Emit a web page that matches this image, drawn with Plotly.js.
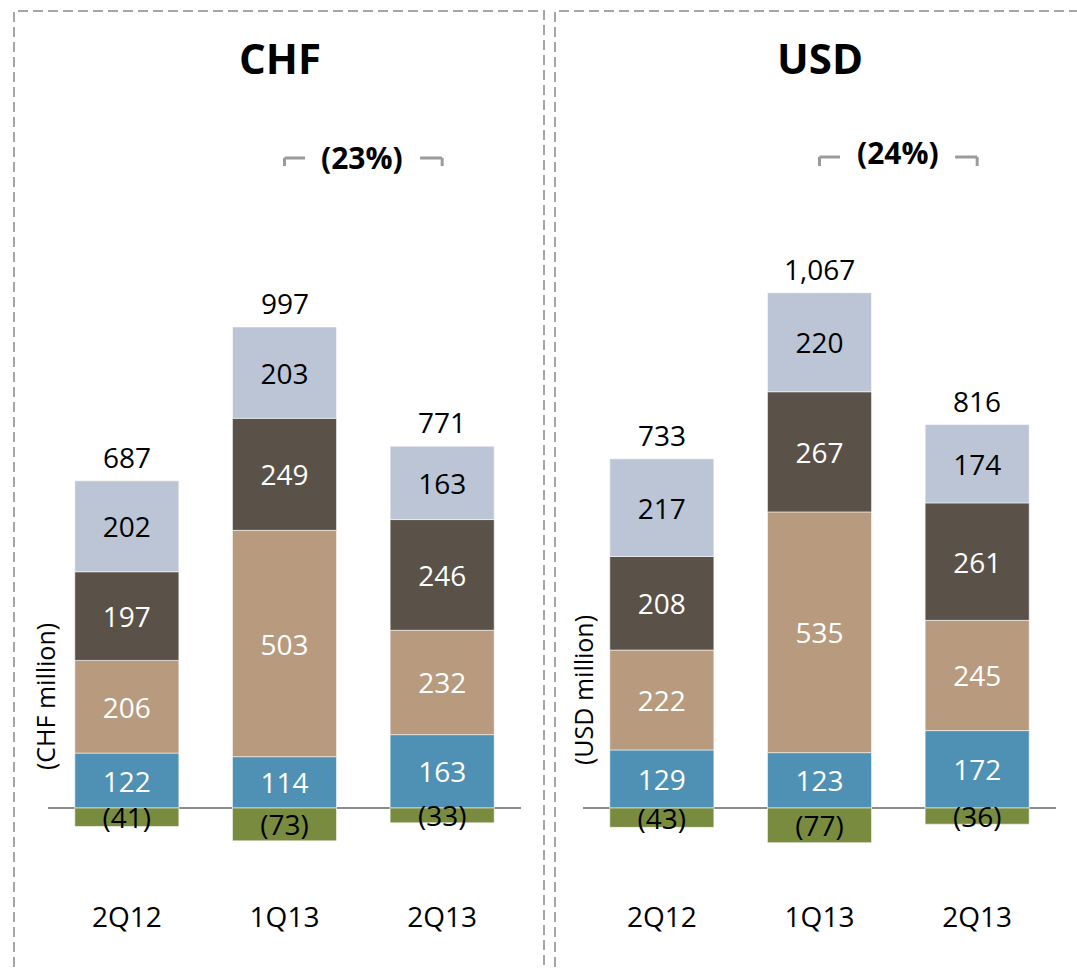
<!DOCTYPE html>
<html>
<head>
<meta charset="utf-8">
<script src="https://cdn.plot.ly/plotly-3.0.1.min.js"></script>
<style>html,body{margin:0;padding:0;background:#fff}#chart{width:1077px;height:969px}</style>
</head>
<body>
<div id="chart"></div>
<script>
// ---- data ----
const categories = ['2Q12', '1Q13', '2Q13'];

const chfBlue  = [122, 114, 163];
const chfTan   = [206, 503, 232];
const chfDark  = [197, 249, 246];
const chfLight = [202, 203, 163];
const chfGreen = [-41, -73, -33];
const chfTotal = ['687', '997', '771'];

const usdBlue  = [129, 123, 172];
const usdTan   = [222, 535, 245];
const usdDark  = [208, 267, 261];
const usdLight = [217, 220, 174];
const usdGreen = [-43, -77, -36];
const usdTotal = ['733', '1,067', '816'];

const panelTitles = ['CHF', 'USD'];
const axisTitles = ['(CHF million)', '(USD million)'];
const changeLabels = ['(23%)', '(24%)'];

// ---- styling ----
const W = 1077, H = 969;
const px = x => x / W;
const py = y => 1 - y / H;
const FONT = 'Open Sans, Noto Sans, sans-serif';
const colors = {blue: '#4e91b5', tan: '#b89b7f', dark: '#5a5249', light: '#bcc5d5', green: '#788b3e'};
const fmt = v => v < 0 ? '(' + (-v) + ')' : String(v);

function seriesTrace(vals, color, txtColor, xa, name) {
  return {
    type: 'bar', x: categories, y: vals, name: name,
    xaxis: xa, yaxis: 'y',
    marker: {color: color, line: {color: 'rgba(255,255,255,0.55)', width: 1}},
    text: vals.map(fmt), textposition: 'inside', insidetextanchor: 'middle',
    constraintext: 'none', cliponaxis: false, textangle: 0,
    textfont: {family: FONT, size: 28, color: txtColor},
    hoverinfo: 'x+y', showlegend: false
  };
}

const data = [
  seriesTrace(chfBlue, colors.blue, '#ffffff', 'x', 'CHF blue'),
  seriesTrace(chfTan, colors.tan, '#ffffff', 'x', 'CHF tan'),
  seriesTrace(chfDark, colors.dark, '#ffffff', 'x', 'CHF dark'),
  seriesTrace(chfLight, colors.light, '#000000', 'x', 'CHF light'),
  seriesTrace(chfGreen, colors.green, '#000000', 'x', 'CHF green'),
  seriesTrace(usdBlue, colors.blue, '#ffffff', 'x2', 'USD blue'),
  seriesTrace(usdTan, colors.tan, '#ffffff', 'x2', 'USD tan'),
  seriesTrace(usdDark, colors.dark, '#ffffff', 'x2', 'USD dark'),
  seriesTrace(usdLight, colors.light, '#000000', 'x2', 'USD light'),
  seriesTrace(usdGreen, colors.green, '#000000', 'x2', 'USD green')
];

const posSum = arrs => categories.map((c, i) => arrs.reduce((s, a) => s + Math.max(0, a[i]), 0));
const chfTop = posSum([chfBlue, chfTan, chfDark, chfLight]);
const usdTop = posSum([usdBlue, usdTan, usdDark, usdLight]);

const annotations = [];
function addTotals(tops, labels, xref) {
  categories.forEach((c, i) => {
    annotations.push({x: c, y: tops[i], xref: xref, yref: 'y', text: labels[i],
      showarrow: false, xanchor: 'center', yanchor: 'bottom', yshift: 3,
      font: {family: FONT, size: 28, color: '#000'}});
  });
}
addTotals(chfTop, chfTotal, 'x');
addTotals(usdTop, usdTotal, 'x2');

function paperText(x, y, text, size, extra) {
  annotations.push(Object.assign({x: px(x), y: py(y), xref: 'paper', yref: 'paper', text: text,
    showarrow: false, xanchor: 'center', yanchor: 'middle',
    font: {family: FONT, size: size, color: '#000'}}, extra || {}));
}
// panel titles
paperText(280, 57, '<b>' + panelTitles[0] + '</b>', 42);
paperText(820, 57, '<b>' + panelTitles[1] + '</b>', 42);
// axis titles
paperText(45, 697, axisTitles[0], 25, {textangle: -90});
paperText(583, 690, axisTitles[1], 25, {textangle: -90});
// change labels
paperText(362, 157, '<b>' + changeLabels[0] + '</b>', 30);
paperText(898, 152, '<b>' + changeLabels[1] + '</b>', 30);

const shapes = [];
const dashLine = {color: '#a6a6a6', width: 2, dash: '10px,5px'};
shapes.push({type: 'rect', xref: 'paper', yref: 'paper', x0: px(14), x1: px(544), y0: py(990), y1: py(11), line: dashLine});
shapes.push({type: 'rect', xref: 'paper', yref: 'paper', x0: px(555), x1: px(1100), y0: py(990), y1: py(11), line: dashLine});

function bracket(xref, yTop, yBot) {
  const ln = {color: '#9b9b9b', width: 3};
  shapes.push({type: 'line', xref: xref, yref: 'paper', x0: 1, x1: 1, y0: py(yBot), y1: py(yTop), line: ln});
  shapes.push({type: 'line', xref: xref, yref: 'paper', x0: 1, x1: 1.13, y0: py(yTop), y1: py(yTop), line: ln});
  shapes.push({type: 'line', xref: xref, yref: 'paper', x0: 2, x1: 2, y0: py(yBot), y1: py(yTop), line: ln});
  shapes.push({type: 'line', xref: xref, yref: 'paper', x0: 1.86, x1: 2, y0: py(yTop), y1: py(yTop), line: ln});
}
bracket('x', 158, 166);
bracket('x2', 157, 166);

const yBottomPx = 898, zeroPx = 808, scale = 0.45;
const xaxisBase = {type: 'category', range: [-0.5, 2.5], showgrid: false, zeroline: false, showline: false,
  ticks: '', tickfont: {family: FONT, size: 28, color: '#000'}, fixedrange: true};

const layout = {
  width: W, height: H,
  margin: {l: 0, r: 0, t: 0, b: 0},
  paper_bgcolor: '#fff', plot_bgcolor: 'rgba(0,0,0,0)',
  barmode: 'relative', bargap: 0.34,
  showlegend: false,
  xaxis: Object.assign({}, xaxisBase, {domain: [px(48), px(521)], anchor: 'y'}),
  xaxis2: Object.assign({}, xaxisBase, {domain: [px(583), px(1056)], anchor: 'y'}),
  yaxis: {domain: [py(yBottomPx), 1], range: [-(yBottomPx - zeroPx) / scale, zeroPx / scale],
    showgrid: false, showticklabels: false, ticks: '', showline: false,
    zeroline: true, zerolinecolor: '#8c8c8c', zerolinewidth: 2.5, fixedrange: true},
  annotations: annotations,
  shapes: shapes
};

Plotly.newPlot('chart', data, layout, {displayModeBar: false, staticPlot: true});
</script>
</body>
</html>
